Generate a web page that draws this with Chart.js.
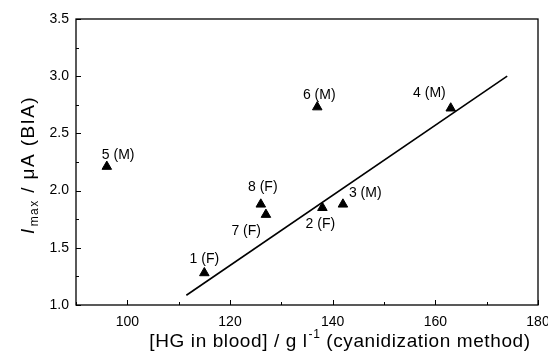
<!DOCTYPE html>
<html><head><meta charset="utf-8">
<script src="https://cdn.jsdelivr.net/npm/chart.js@4"></script>
<style>html,body{margin:0;padding:0;background:#fff}#wrap{width:548px;height:356px}</style>
</head><body><div id="wrap"><canvas id="c" width="548" height="356"></canvas></div>
<script>
const labels = ["1 (F)","2 (F)","3 (M)","4 (M)","5 (M)","6 (M)","7 (F)","8 (F)"];
const hgValues = [115, 138, 142, 163, 96, 137, 127, 126];
const imaxValues = [1.28, 1.85, 1.88, 2.72, 2.21, 2.73, 1.79, 1.88];
const fitX = [111.5, 174];
const fitY = [1.085, 3.0];
const xMajorTicks = [100, 120, 140, 160, 180];
const xMinorTicks = [90, 110, 130, 150, 170];
const yMajorTicks = [1.0, 1.5, 2.0, 2.5, 3.0, 3.5];
const yMinorTicks = [1.25, 1.75, 2.25, 2.75, 3.25];

// label placement (pixel offsets from marker: dx, dy, align, baseline)
const labelPlace = [
  [0, -7, 'center', 'bottom'],
  [-2, 9, 'center', 'top'],
  [6, -4, 'left', 'bottom'],
  [-5, -8, 'right', 'bottom'],
  [-5, -4, 'left', 'bottom'],
  [2, -5, 'center', 'bottom'],
  [-5, 10, 'right', 'top'],
  [2, -10, 'center', 'bottom']
];

const FONT = '"Liberation Sans", Arial, sans-serif';

function setSpacing(ctx, v) { if ('letterSpacing' in ctx) ctx.letterSpacing = v + 'px'; }

const decor = {
  id: 'decor',
  afterDraw(chart) {
    const ctx = chart.ctx, a = chart.chartArea;
    const xs = chart.scales.x, ys = chart.scales.y;
    ctx.save();
    ctx.strokeStyle = '#000';
    ctx.lineWidth = 1.3;
    ctx.strokeRect(a.left, a.top, a.right - a.left, a.bottom - a.top);
    ctx.lineWidth = 1;
    ctx.beginPath();
    xMajorTicks.forEach(v => { const p = Math.round(xs.getPixelForValue(v)) + 0.5; ctx.moveTo(p, a.bottom); ctx.lineTo(p, a.bottom - 5); });
    xMinorTicks.forEach(v => { const p = Math.round(xs.getPixelForValue(v)) + 0.5; ctx.moveTo(p, a.bottom); ctx.lineTo(p, a.bottom - 3); });
    yMajorTicks.forEach(v => { const p = Math.round(ys.getPixelForValue(v)) + 0.5; ctx.moveTo(a.left, p); ctx.lineTo(a.left + 5, p); });
    yMinorTicks.forEach(v => { const p = Math.round(ys.getPixelForValue(v)) + 0.5; ctx.moveTo(a.left, p); ctx.lineTo(a.left + 3, p); });
    ctx.stroke();

    ctx.fillStyle = '#000';
    // x tick labels
    ctx.font = '14px ' + FONT;
    ctx.textAlign = 'center'; ctx.textBaseline = 'middle';
    xMajorTicks.forEach(v => ctx.fillText(String(v), xs.getPixelForValue(v), a.bottom + 17));

    // point labels
    ctx.font = '14px ' + FONT;
    labels.forEach((t, i) => {
      const px = xs.getPixelForValue(hgValues[i]);
      const py = ys.getPixelForValue(imaxValues[i]);
      const [dx, dy, al, bl] = labelPlace[i];
      ctx.textAlign = al; ctx.textBaseline = bl;
      ctx.fillText(t, px + dx, py + dy);
    });

    // x title
    ctx.textBaseline = 'alphabetic';
    ctx.textAlign = 'left';
    setSpacing(ctx, 0.6);
    const big = '19px ' + FONT, small = '12px ' + FONT;
    const p1 = '[HG in blood] / g l', p2 = '-1', p3 = ' (cyanidization method)';
    ctx.font = big; const w1 = ctx.measureText(p1).width, w3 = ctx.measureText(p3).width;
    ctx.font = small; const w2 = ctx.measureText(p2).width;
    let x0 = 340 - (w1 + w2 + 1 + w3) / 2, yb = 347;
    ctx.font = big; ctx.fillText(p1, x0, yb);
    ctx.font = small; ctx.fillText(p2, x0 + w1 + 1, yb - 9);
    ctx.font = big; ctx.fillText(p3, x0 + w1 + 1 + w2, yb);

    // y title
    setSpacing(ctx, 1.4);
    ctx.translate(27, 165);
    ctx.rotate(-Math.PI / 2);
    const q1 = 'I', q2 = 'max', q3 = ' / \u03bcA (BIA)';
    const ital = 'italic 19px ' + FONT, bigY = '19px ' + FONT, smallY = '12px ' + FONT;
    ctx.font = ital; const v1 = ctx.measureText(q1).width;
    ctx.font = smallY; const v2 = ctx.measureText(q2).width;
    ctx.font = bigY; const v3 = ctx.measureText(q3).width;
    let s = -(v1 + 1 + v2 + v3) / 2, b = 7;
    ctx.font = ital; ctx.fillText(q1, s, b);
    ctx.font = smallY; ctx.fillText(q2, s + v1 + 1, b + 4);
    ctx.font = bigY; ctx.fillText(q3, s + v1 + 1 + v2, b);
    ctx.restore();
  }
};

new Chart(document.getElementById('c'), {
  type: 'scatter',
  data: {
    datasets: [
      {
        data: hgValues.map((x, i) => ({ x, y: imaxValues[i] })),
        pointStyle: 'triangle', pointRadius: 5.5,
        backgroundColor: '#000', borderColor: '#000', borderWidth: 1
      },
      {
        type: 'line',
        data: fitX.map((x, i) => ({ x, y: fitY[i] })),
        borderColor: '#000', borderWidth: 1.6, pointRadius: 0, fill: false
      }
    ]
  },
  options: {
    responsive: false, animation: false,
    layout: { padding: { left: 0, top: 19, right: 10, bottom: 0 } },
    plugins: { legend: { display: false }, tooltip: { enabled: false } },
    scales: {
      x: {
        type: 'linear', min: 90, max: 180,
        afterFit(s) { s.height = 51; },
        afterBuildTicks(s) { s.ticks = xMajorTicks.map(v => ({ value: v })); },
        grid: { display: false, drawTicks: false, tickLength: 0 }, border: { display: false },
        ticks: { display: false }
      },
      y: {
        type: 'linear', min: 1.0, max: 3.5,
        afterFit(s) { s.width = 76; },
        afterBuildTicks(s) { s.ticks = yMajorTicks.map(v => ({ value: v })); },
        grid: { display: false, drawTicks: false, tickLength: 0 }, border: { display: false },
        ticks: { color: '#000', font: { family: FONT, size: 14 }, padding: 7,
          callback: v => Number(v).toFixed(1) }
      }
    }
  },
  plugins: [decor]
});
</script></body></html>
